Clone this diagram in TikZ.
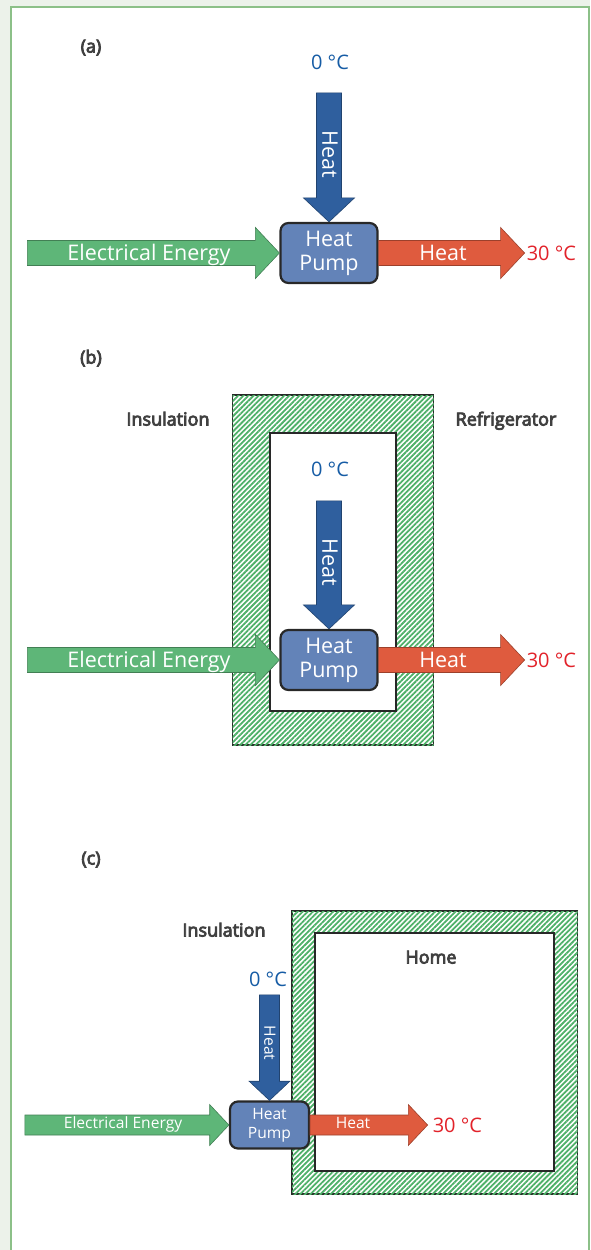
\documentclass[tikz,border=0pt]{standalone}
\usepackage{fontspec}
\setmainfont{Open Sans}
\newfontfamily\tagfont{Open Sans}[FakeBold=4.5]
\usepackage{tikz}
\usetikzlibrary{positioning,calc,patterns.meta}
\usepackage{xcolor}
\definecolor{elecgreen}{RGB}{94,182,120}
\definecolor{heatblue}{RGB}{47,95,158}
\definecolor{heatred}{RGB}{223,91,62}
\definecolor{pumpblue}{RGB}{99,131,184}
\definecolor{coldblue}{RGB}{22,92,165}
\definecolor{hotred}{RGB}{226,34,42}
\definecolor{labelgray}{RGB}{64,64,64}
\definecolor{hatchgreen}{RGB}{78,176,104}
\definecolor{framegreen}{RGB}{140,192,136}
\definecolor{pagegreen}{RGB}{236,242,234}
\definecolor{edgegray}{RGB}{40,40,40}

% block arrow: colour, tip, angle, length, scale
\newcommand{\flowarrow}[5]{%
  \filldraw[fill=#1, draw=#1!70!black, line width=0.6pt, shift={(#2)}, rotate=#3, scale=#5]
    (0,0) -- (-24,-25.5) -- (-24,-12.5) -- (-#4,-12.5) -- (-#4,12.5) -- (-24,12.5) -- (-24,25.5) -- cycle;}

\begin{document}
\begin{tikzpicture}[x=1pt, y=-1pt,
    pump/.style={draw=edgegray, line width=2.2pt, fill=pumpblue, rounded corners=8pt,
      text=white, align=center, inner sep=0pt},
    bigpump/.style={pump, minimum width=97pt, minimum height=60pt, font=\fontsize{21.5}{24}\selectfont},
    smallpump/.style={pump, minimum width=79pt, minimum height=47pt, font=\fontsize{15.6}{19}\selectfont},
    bigtext/.style={text=white, font=\fontsize{21.5}{24}\selectfont, text height=15.4pt, text depth=0pt, inner sep=0pt},
    smalltext/.style={text=white, font=\fontsize{15.6}{19}\selectfont, text height=11.1pt, text depth=0pt, inner sep=0pt},
    cold/.style={text=coldblue, font=\fontsize{20}{22}\selectfont, text height=14.3pt, text depth=0pt, inner sep=0pt},
    hot/.style={text=hotred, font=\fontsize{20}{22}\selectfont, text height=14.3pt, text depth=0pt, inner sep=0pt},
    tag/.style={text=labelgray, font=\tagfont\fontsize{18}{20}\selectfont, text height=13pt, text depth=0pt, inner sep=0pt},
    insul/.style={draw=edgegray, line width=1.5pt, fill=white, postaction={pattern={Lines[angle=45, distance=3.6pt, line width=1.8pt]}, pattern color=hatchgreen}},
    room/.style={draw=edgegray, line width=2pt, fill=white}]
    \useasboundingbox (0,0) rectangle (590,1250);

    % Page frame
    \fill[pagegreen] (0,0) rectangle (590,1250);
    \fill[white] (11,7) rectangle (589,1250);
    \draw[framegreen, line width=1.5pt] (11,1250) -- (11,7) -- (589,7) -- (589,1250);

    % (a) heat pump alone
    \node[tag] (tagA) at (91,46) {(a)};
    \node[bigpump] (pumpA) at (329,253) {Heat\\Pump};
    \coordinate[right=146pt of pumpA] (hotA);
    \flowarrow{elecgreen}{pumpA.west}{0}{252}{1}
    \flowarrow{heatblue}{pumpA.north}{-90}{129}{1}
    \flowarrow{heatred}{hotA}{0}{146}{1}
    \node[bigtext] (elecA) at (149,253) {Electrical Energy};
    \node[bigtext] (outA) at (443,253) {Heat};
    \node[bigtext, rotate=-90] (inA) at (330,154) {Heat};
    \node[cold] (coldA) at (330,62) {0 °C};
    \node[hot, right=2pt of hotA] (warmA) {30 °C};

    % (b) refrigerator
    \node[tag] (tagB) at (91,357) {(b)};
    \draw[insul] (232.5,395) rectangle (433.5,745);
    \draw[room] (270,433) rectangle (396,711);
    \node[tag] (insulB) at (168,419) {Insulation};
    \node[tag] (fridge) at (506,419) {Refrigerator};
    \node[bigpump] (pumpB) at (329,660) {Heat\\Pump};
    \coordinate[right=146pt of pumpB] (hotB);
    \flowarrow{elecgreen}{pumpB.west}{0}{252}{1}
    \flowarrow{heatblue}{pumpB.north}{-90}{128}{1}
    \flowarrow{heatred}{hotB}{0}{146}{1}
    \node[bigtext] (elecB) at (149,660) {Electrical Energy};
    \node[bigtext] (outB) at (443,660) {Heat};
    \node[bigtext, rotate=-90] (inB) at (330,562) {Heat};
    \node[cold] (coldB) at (330,469) {0 °C};
    \node[hot, right=2pt of hotB] (warmB) {30 °C};

    % (c) home
    \node[tag] (tagC) at (91,858) {(c)};
    \draw[insul] (292,911) rectangle (577.5,1194);
    \draw[room] (314.5,933) rectangle (554,1171);
    \node[tag] (insulC) at (224,930) {Insulation};
    \node[tag] (home) at (431,957) {Home};
    \node[smallpump] (pumpC) at (269.5,1125) {Heat\\Pump};
    \coordinate[right=117.5pt of pumpC] (hotC);
    \flowarrow{elecgreen}{pumpC.west}{0}{255}{0.8}
    \flowarrow{heatblue}{pumpC.north}{-90}{132}{0.8}
    \flowarrow{heatred}{hotC}{0}{147}{0.8}
    \node[smalltext] (elecC) at (123,1123) {Electrical Energy};
    \node[smalltext] (outC) at (353,1123) {Heat};
    \node[smalltext, rotate=-90] (inC) at (270,1043) {Heat};
    \node[cold] (coldC) at (268,979) {0 °C};
    \node[hot, right=5pt of hotC] (warmC) {30 °C};
\end{tikzpicture}
\end{document}
